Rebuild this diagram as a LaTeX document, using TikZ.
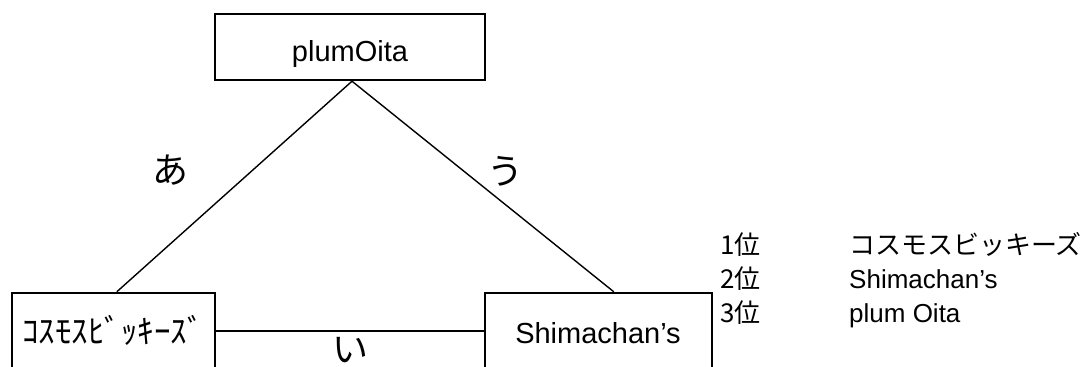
\documentclass[tikz,border=0pt]{standalone}
\usepackage{fontspec}
\setmainfont{Liberation Sans}
\newfontfamily\jp{Noto Sans CJK JP}
\begin{document}
\begin{tikzpicture}[x=1pt,y=-1pt,
  box/.style={draw,line width=2.4pt,inner sep=0pt},
  link/.style={line width=1.4pt},
  bar/.style={line width=2.4pt},
  boxtext/.style={font=\fontsize{29}{29}\selectfont,inner sep=0pt,anchor=base},
  kana/.style={font=\jp\fontsize{36}{36}\selectfont,inner sep=0pt},
  rank/.style={font=\jp\fontsize{26}{26}\selectfont,inner sep=0pt,anchor=base west},
  ranklat/.style={font=\fontsize{26}{26}\selectfont,inner sep=0pt,anchor=base west}]
\clip (0,0) rectangle (1088,367);
\fill[white] (0,0) rectangle (1088,367);
% boxes
\node[box,minimum width=270pt,minimum height=66pt] (top) at (350,47) {};
\node[box,minimum width=203pt,minimum height=76pt] (lb) at (113.5,331) {};
\node[box,minimum width=227pt,minimum height=76pt] (rb) at (598.5,331) {};
\node[boxtext] (ttop) at (350,61) {plumOita};
\node[boxtext,font=\jp\fontsize{33}{33}\selectfont] (tlb) at (113,343) {ｺｽﾓｽﾋﾞｯｷｰｽﾞ};
\node[boxtext] (trb) at (598,343) {Shimachan’s};
% connectors
\draw[link] ([xshift=2pt]top.south) -- ([xshift=106pt]lb.north west);
\draw[link] ([xshift=2pt]top.south) -- ([xshift=130pt]rb.north west);
\draw[bar] (lb.east) -- (rb.west);
% labels
\node[kana] (a) at (170,170) {あ};
\node[kana] (u) at (505,171) {う};
\node[kana] (i) at (350,350) {い};
% ranking
\node[rank] (r1) at (720,254) {1位};
\node[rank] (r2) at (720,288) {2位};
\node[rank] (r3) at (720,322) {3位};
\node[rank] (n1) at (849,254) {コスモスビッキーズ};
\node[ranklat] (n2) at (849,288) {Shimachan’s};
\node[ranklat] (n3) at (849,322) {plum Oita};
\end{tikzpicture}
\end{document}
